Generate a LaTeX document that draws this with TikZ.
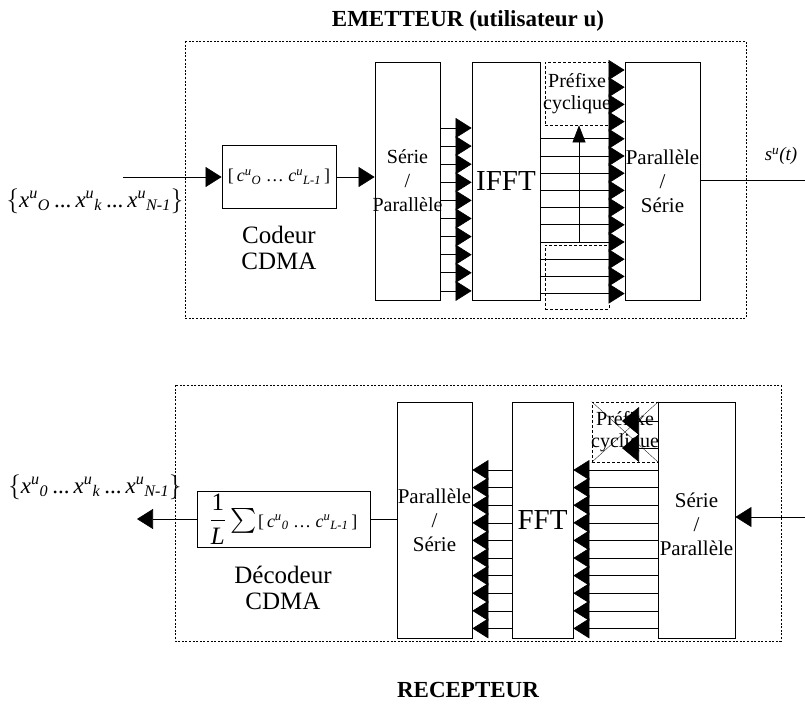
\documentclass[tikz,border=0pt]{standalone}
\usepackage{amsmath}
\usepackage{fontspec}
\setmainfont{Liberation Serif}
\usetikzlibrary{arrows.meta}

\newcommand{\xu}[1]{\textit{x}^{\textit{u}}{}_{\textit{#1}}}
\newcommand{\cu}[1]{\textit{c}^{\textit{u}}{}_{\textit{#1}}}
\newcommand{\pts}{\textrm{...}}

\tikzset{
  blk/.style={draw, line width=0.8pt, inner sep=0pt},
  pfx/.style={draw, line width=0.7pt, dash pattern=on 3pt off 2pt, inner sep=0pt},
  frame/.style={line width=0.7pt, dash pattern=on 2pt off 1.6pt},
  lbl/.style={align=center, inner sep=0pt},
  tip/.style={line width=0.6pt, -{Triangle[length=16pt,width=20pt]}},
  bigtip/.style={line width=0.6pt, -{Triangle[length=17pt,width=28pt]}},
  ttl/.style={font=\fontsize{23}{26}\selectfont\bfseries}
}

\begin{document}
\begin{tikzpicture}[x=1pt,y=-1pt]
\useasboundingbox (0,0) rectangle (805,708);

% Emetteur
\node[ttl] (emt) at (468,21) {EMETTEUR (utilisateur u)};
\draw[frame] (185,41) rectangle (746,318);

\node[blk, minimum width=114pt, minimum height=63pt, font=\fontsize{18}{20}\selectfont] (cod) at (279,177) {[\,$\cu{O}$ \ldots\ $\cu{L-1}$\,]};
\node[lbl, font=\fontsize{25}{26}\selectfont] (codl) at (279,248) {Codeur\\CDMA};
\node[blk, minimum width=65pt, minimum height=238pt] (sp1) at (407.5,181) {};
\node[lbl, font=\fontsize{20}{24}\selectfont] (sp1t) at (sp1) {Série\\/\\Parallèle};
\node[blk, minimum width=68pt, minimum height=238pt, font=\fontsize{29}{32}\selectfont] (ifft) at (506,181) {IFFT};
\node[pfx, minimum width=64pt, minimum height=63pt] (pf1) at (577,93.5) {};
\node[lbl, font=\fontsize{20}{22}\selectfont] (pf1t) at (pf1) {Préfixe\\cyclique};
\node[pfx, minimum width=64pt, minimum height=64pt] (cp1) at (577,277) {};
\node[blk, minimum width=75pt, minimum height=238pt] (ps1) at (662.5,181) {};
\node[lbl, font=\fontsize{21}{24}\selectfont] (ps1t) at (ps1) {Parallèle\\/\\Série};

% Signaux
\node[inner sep=0pt, font=\fontsize{23}{26}\selectfont] (xin) at (95,201) {$\{\xu{O}\,\pts\,\xu{k}\,\pts\,\xu{N-1}\}$};
\node[inner sep=0pt, font=\fontsize{19}{22}\selectfont] (sout) at (781,156) {$\textit{s}^{\textit{u}}$\textit{(t)}};
\coordinate (ain) at (123,177);
\coordinate (aout) at (805,180);
\coordinate (vup) at (579,243);

\draw[tip] (ain) -- (cod.west);
\draw[tip] (cod.east) -- (cod.east -| sp1.west);
\foreach \i in {0,...,9} {
  \coordinate (l\i) at (0,{128+18.1*\i});
  \draw[tip] (sp1.east |- l\i) -- (ifft.west |- l\i);
}

% Vers Parallele/Serie
\foreach \j in {0,...,13}
  \coordinate (r\j) at (0,{70+17.2*\j});
\foreach \j in {0,...,3}
  \draw[tip] (pf1.east |- r\j) -- (ps1.west |- r\j);
\foreach \j in {4,...,13}
  \draw[tip] (ifft.east |- r\j) -- (ps1.west |- r\j);
\draw[line width=0.6pt, -{Triangle[length=17pt,width=13pt]}] (vup) -- (vup |- pf1.south);
\draw[line width=0.6pt] (ps1.east |- aout) -- (aout);

% Recepteur
\node[ttl] (rcp) at (468,690) {RECEPTEUR};
\draw[frame] (175,385) rectangle (781,641);

\node[blk, minimum width=77pt, minimum height=236pt] (sp2) at (696.5,520) {};
\node[lbl, font=\fontsize{21}{24}\selectfont] (sp2t) at (696.5,524) {Série\\/\\Parallèle};
\node[pfx, minimum width=66pt, minimum height=60pt] (pf2) at (625,432) {};
\draw[line width=0.3pt] (pf2.north west) -- (pf2.south east) (pf2.south west) -- (pf2.north east);
\node[lbl, font=\fontsize{20}{22}\selectfont] (pf2t) at (pf2) {Préfixe\\cyclique};
\node[blk, minimum width=61pt, minimum height=236pt, font=\fontsize{29}{32}\selectfont] (fft) at (542.5,520) {FFT};
\node[blk, minimum width=75pt, minimum height=236pt] (ps2) at (434.5,520) {};
\node[lbl, font=\fontsize{21}{24}\selectfont] (ps2t) at (ps2) {Parallèle\\/\\Série};
\node[blk, minimum width=173pt, minimum height=56pt] (dec) at (283.5,519)
  {{\fontsize{25}{26}\selectfont$\dfrac{\textrm{1}}{\textit{L}}\textstyle\sum$}\,{\fontsize{18}{20}\selectfont[\,$\cu{0}$ \ldots\ $\cu{L-1}$\,]}};
\node[lbl, font=\fontsize{25}{26}\selectfont] (decl) at (283,588) {Décodeur\\CDMA};
\node[inner sep=0pt, font=\fontsize{23}{26}\selectfont] (xout) at (95,487) {$\{\xu{0}\,\pts\,\xu{k}\,\pts\,\xu{N-1}\}$};

\coordinate (bin) at (805,517);
\coordinate (bout) at (137,519);
\draw[tip] (bin) -- (bin -| sp2.east);
\foreach \i in {0,...,9} {
  \coordinate (f\i) at (0,{470+17.6*\i});
  \draw[tip] (sp2.west |- f\i) -- (fft.east |- f\i);
  \draw[tip] (fft.west |- f\i) -- (ps2.east |- f\i);
}
\coordinate (c1) at (622,421);
\coordinate (c2) at (622,448);
\foreach \c in {c1,c2}
  \draw[bigtip] (sp2.west |- \c) -- (\c);
\draw[line width=0.6pt] (ps2.west |- dec.east) -- (dec.east);
\draw[tip] (dec.west) -- (bout);
\end{tikzpicture}
\end{document}
